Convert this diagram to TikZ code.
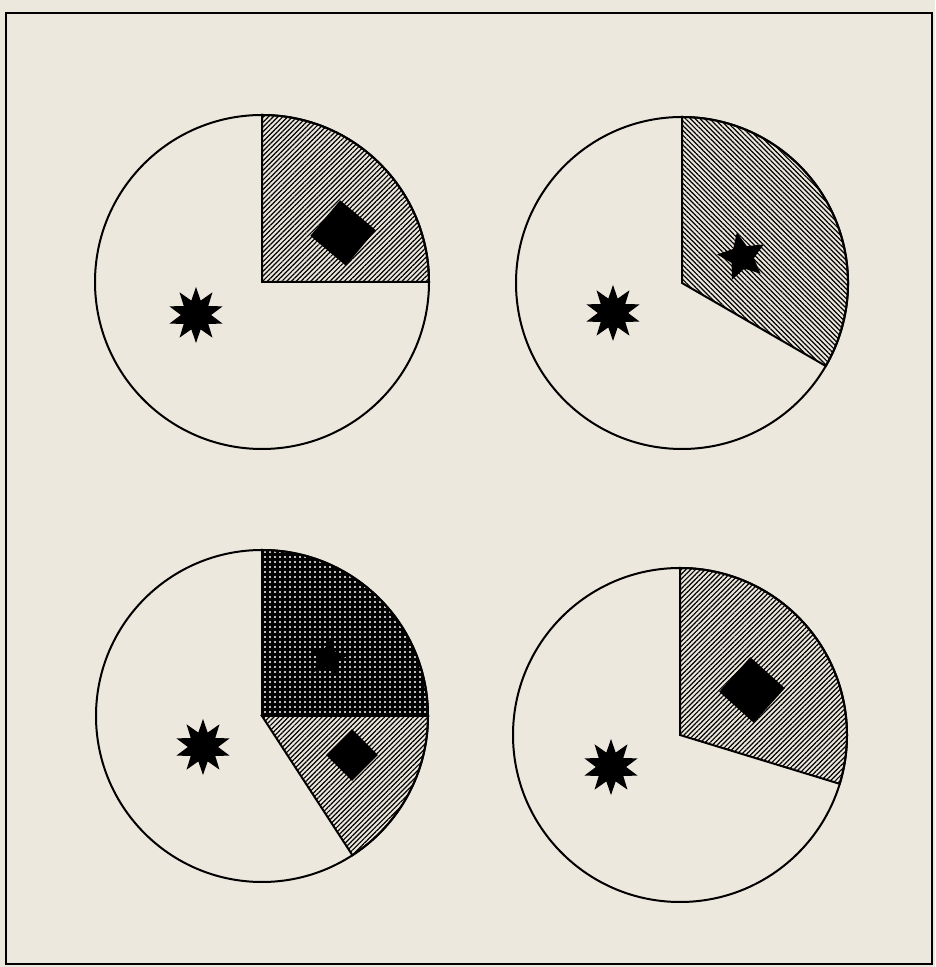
\documentclass[tikz,border=0pt]{standalone}
\usetikzlibrary{shapes.geometric, patterns.meta}
\definecolor{paper}{RGB}{236,232,221}
\tikzstyle{rim} = [draw, line width=1pt]
\tikzstyle{hatchup} = [pattern={Lines[angle=45,distance=1.7pt,line width=0.6pt]}, pattern color=black]
\tikzstyle{hatchdown} = [pattern={Lines[angle=-45,distance=1.7pt,line width=0.6pt]}, pattern color=black]
\tikzstyle{dotgrid} = [pattern={Dots[distance=2.5pt,radius=0.55pt]}, pattern color=white]
\tikzstyle{gem} = [diamond, fill=black, inner sep=0pt, minimum size=33pt]
\tikzstyle{burst} = [star, star points=10, star point ratio=1.85, fill=black, inner sep=0pt, minimum size=28pt]
\tikzstyle{pentastar} = [star, star points=5, star point ratio=2.1, fill=black, inner sep=0pt, minimum size=25pt]

\begin{document}
\begin{tikzpicture}[x=0.5pt, y=0.5pt]
    % Paper and frame
    \fill[paper] (0,0) rectangle (935,967);
    \useasboundingbox (0,0) rectangle (935,967);
    \draw[line width=1.1pt] (6,3) rectangle (932,954);

    % Centres of the four discs
    \coordinate (tl) at (262,685);
    \coordinate (tr) at (682,684);
    \coordinate (bl) at (262,251);
    \coordinate (br) at (680,232);

    % Sectors
    \draw[rim, hatchup] (tl) -- ++(0:167) arc[start angle=0, end angle=90, radius=167] -- cycle;
    \draw[rim, hatchdown] (tr) -- ++(-30:166) arc[start angle=-30, end angle=90, radius=166] -- cycle;
    \draw[rim, hatchup] (bl) -- ++(-57:166) arc[start angle=-57, end angle=0, radius=166] -- cycle;
    \fill[black] (bl) -- ++(0:166) arc[start angle=0, end angle=90, radius=166] -- cycle;
    \fill[dotgrid] (bl) -- ++(0:166) arc[start angle=0, end angle=90, radius=166] -- cycle;
    \draw[rim] (bl) -- ++(0:166) arc[start angle=0, end angle=90, radius=166] -- cycle;
    \draw[rim, hatchup] (br) -- ++(-17:167) arc[start angle=-17, end angle=90, radius=167] -- cycle;

    % Discs
    \draw[rim] (tl) circle[radius=167];
    \draw[rim] (tr) circle[radius=166];
    \draw[rim] (bl) circle[radius=166];
    \draw[rim] (br) circle[radius=167];

    % Marks
    \node[gem, rotate=5] (tlgem) at ([shift={(81,49)}]tl) {};
    \node[burst] (tlburst) at ([shift={(-66,-33)}]tl) {};
    \node[pentastar, rotate=12] (trstar) at ([shift={(60,26)}]tr) {};
    \node[burst] (trburst) at ([shift={(-69,-30)}]tr) {};
    \node[gem, minimum size=26pt] (blgem) at ([shift={(90,-39)}]bl) {};
    \node[pentastar, minimum size=20pt, rotate=-10] (blstar) at ([shift={(66,58)}]bl) {};
    \node[burst] (blburst) at ([shift={(-59,-31)}]bl) {};
    \node[gem, rotate=3] (brgem) at ([shift={(72,45)}]br) {};
    \node[burst] (brburst) at ([shift={(-69,-32)}]br) {};
\end{tikzpicture}
\end{document}
